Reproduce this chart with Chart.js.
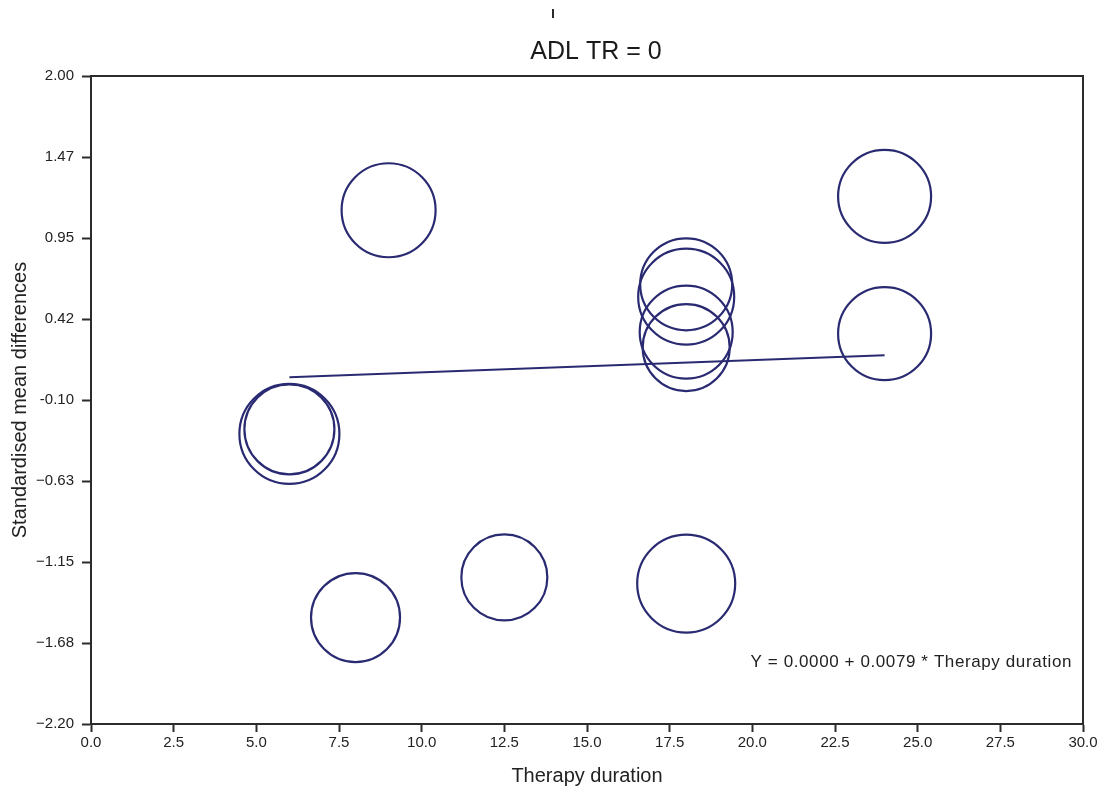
<!DOCTYPE html>
<html>
<head>
<meta charset="utf-8">
<title>ADL TR = 0</title>
<script src="https://cdn.jsdelivr.net/npm/chart.js@4/dist/chart.umd.min.js"></script>
<style>
    html, body { margin: 0; padding: 0; background: #fff; }
    canvas { display: block; }
</style>
</head>
<body>
<canvas id="meta-chart" width="1104" height="790"></canvas>
<script>
// study points: therapy duration vs standardised mean difference, bubble radius = weight (px)
const durations = [9, 24, 18, 18, 18, 18, 24, 6, 6, 18, 8, 12.5];
const smd       = [1.13, 1.22, 0.65, 0.57, 0.34, 0.24, 0.33, -0.32, -0.29, -1.29, -1.51, -1.25];
const radii     = [47, 46.5, 46, 48, 46.5, 43.5, 46.5, 50, 45, 49, 44.5, 43];

// meta-regression line
const intercept = 0.0000;
const slope = 0.0079;
const lineX = [6, 24];

const yTickValues = [2.0, 1.475, 0.95, 0.425, -0.1, -0.625, -1.15, -1.675, -2.2];
const yTickLabels = ['2.00', '1.47', '0.95', '0.42', '-0.10', '\u22120.63', '\u22121.15', '\u22121.68', '\u22122.20'];

const NAVY = '#2a2a72';
const AXIS = '#2b2b2b';
const FONT = '"Liberation Sans", Arial, sans-serif';

const framePlugin = {
    id: 'frame',
    afterDraw(chart) {
        const { ctx, chartArea } = chart;
        ctx.save();
        ctx.strokeStyle = AXIS;
        ctx.lineWidth = 2;
        ctx.beginPath();
        ctx.moveTo(chartArea.left, chartArea.top);
        ctx.lineTo(chartArea.right, chartArea.top);
        ctx.lineTo(chartArea.right, chartArea.bottom);
        ctx.stroke();

        // small mark above the title
        ctx.beginPath();
        ctx.moveTo(553, 9);
        ctx.lineTo(553, 18);
        ctx.stroke();

        ctx.fillStyle = '#1a1a1a';
        ctx.font = `25px ${FONT}`;
        ctx.textAlign = 'center';
        ctx.textBaseline = 'middle';
        ctx.fillText('ADL TR = 0', 596, 52);

        ctx.font = `17px ${FONT}`;
        ctx.letterSpacing = '0.6px';
        ctx.textAlign = 'right';
        ctx.fillStyle = '#222';
        ctx.fillText(`Y = ${intercept.toFixed(4)} + ${slope.toFixed(4)} * Therapy duration`, 1072, 662);
        ctx.restore();
    }
};

new Chart(document.getElementById('meta-chart'), {
    data: {
        datasets: [
            {
                type: 'line',
                data: lineX.map(x => ({ x, y: intercept + slope * x })),
                borderColor: NAVY,
                borderWidth: 2,
                pointRadius: 0,
                fill: false
            },
            {
                type: 'bubble',
                data: durations.map((x, i) => ({ x, y: smd[i], r: radii[i] })),
                borderColor: NAVY,
                borderWidth: 2.2,
                backgroundColor: 'rgba(0,0,0,0)'
            }
        ]
    },
    options: {
        responsive: false,
        animation: false,
        events: [],
        layout: { autoPadding: false, padding: { top: 76, right: 21, left: 0, bottom: 0 } },
        plugins: {
            legend: { display: false },
            tooltip: { enabled: false }
        },
        scales: {
            x: {
                type: 'linear',
                min: 0,
                max: 30,
                ticks: {
                    stepSize: 2.5,
                    callback: v => v.toFixed(1),
                    color: '#222',
                    font: { family: FONT, size: 15 },
                    padding: 2,
                    maxRotation: 0,
                    autoSkip: false
                },
                grid: { drawOnChartArea: false, drawTicks: true, tickLength: 8, color: AXIS, tickWidth: 2 },
                border: { display: true, color: AXIS, width: 2 },
                title: {
                    display: true,
                    text: 'Therapy duration',
                    color: '#222',
                    font: { family: FONT, size: 20 },
                    padding: { top: 0, bottom: 2 }
                },
                afterFit: s => { s.height = 66; }
            },
            y: {
                type: 'linear',
                min: -2.2,
                max: 2.0,
                afterBuildTicks: s => { s.ticks = yTickValues.map(v => ({ value: v })); },
                ticks: {
                    callback: (v, i) => yTickLabels[i],
                    color: '#222',
                    font: { family: FONT, size: 15 },
                    padding: 8
                },
                grid: { drawOnChartArea: false, drawTicks: true, tickLength: 9, color: AXIS, tickWidth: 2 },
                border: { display: true, color: AXIS, width: 2 },
                title: {
                    display: true,
                    text: 'Standardised mean differences',
                    color: '#222',
                    font: { family: FONT, size: 20 },
                    padding: { top: 8, bottom: 0 }
                },
                afterFit: s => { s.width = 91; }
            }
        }
    },
    plugins: [framePlugin]
});
</script>
</body>
</html>
